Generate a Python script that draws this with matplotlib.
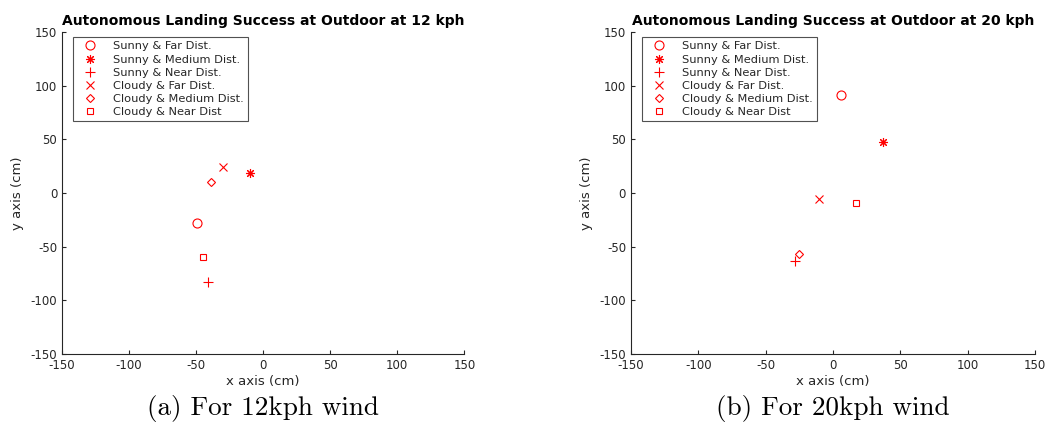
import matplotlib.pyplot as plt

plt.rcParams['axes.unicode_minus'] = False

# landing points (cm)
etiquetas = ['Sunny & Far Dist.', 'Sunny & Medium Dist.', 'Sunny & Near Dist.',
             'Cloudy & Far Dist.', 'Cloudy & Medium Dist.', 'Cloudy & Near Dist']
marcas = ['o', (8, 2, 0), '+', 'x', 'D', 's']
tamanos = [6.5, 6.5, 7.5, 5.5, 4.5, 4.5]

x12 = [-49, -10, -41, -30, -39, -45]
y12 = [-28, 19, -83, 24, 10, -60]

x20 = [6, 37, -28, -10, -25, 17]
y20 = [91, 47, -63, -6, -57, -9]

titulos = ['Autonomous Landing Success at Outdoor at 12 kph',
           'Autonomous Landing Success at Outdoor at 20 kph']
pies = ['(a) For 12kph wind', '(b) For 20kph wind']
ticks = [-150, -100, -50, 0, 50, 100, 150]

fig = plt.figure(figsize=(10.56, 4.24), dpi=100)
gris = '#262626'

def panel(ax, xs, ys, titulo, pie):
    for x, y, m, ms, lab in zip(xs, ys, marcas, tamanos, etiquetas):
        ax.plot([x], [y], linestyle='none', marker=m, color='red',
                markerfacecolor='none', markersize=ms, markeredgewidth=0.8, label=lab)
    ax.set_xlim(-150, 150)
    ax.set_ylim(-150, 150)
    ax.set_xticks(ticks)
    ax.set_yticks(ticks)
    ax.tick_params(direction='in', labelsize=8.5, colors=gris, length=3)
    for s in ['top', 'right']:
        ax.spines[s].set_visible(False)
    for s in ['left', 'bottom']:
        ax.spines[s].set_color(gris)
    ax.set_xlabel('x axis (cm)', fontsize=9.5, color=gris, labelpad=2)
    ax.set_ylabel('y axis (cm)', fontsize=9.5, color=gris, labelpad=5)
    ax.set_title(titulo, fontsize=10, fontweight='bold', pad=5)
    leg = ax.legend(loc='upper left', fontsize=8.2, frameon=True, fancybox=False,
                    edgecolor=gris, borderpad=0.35, labelspacing=0.28,
                    handlelength=2.4, handletextpad=0.8, bbox_to_anchor=(0.012, 1.0))
    leg.get_frame().set_linewidth(0.8)
    for t in leg.get_texts():
        t.set_color(gris)
    ax.text(0.5, -0.168, pie, transform=ax.transAxes, ha='center', va='center',
            fontsize=19.5, fontfamily='cmr10')

ax1 = fig.add_axes([0.0587, 0.165, 0.381, 0.76])
panel(ax1, x12, y12, titulos[0], pies[0])
ax2 = fig.add_axes([0.5975, 0.165, 0.3825, 0.76])
panel(ax2, x20, y20, titulos[1], pies[1])

fig.savefig('out.png', dpi=100)
